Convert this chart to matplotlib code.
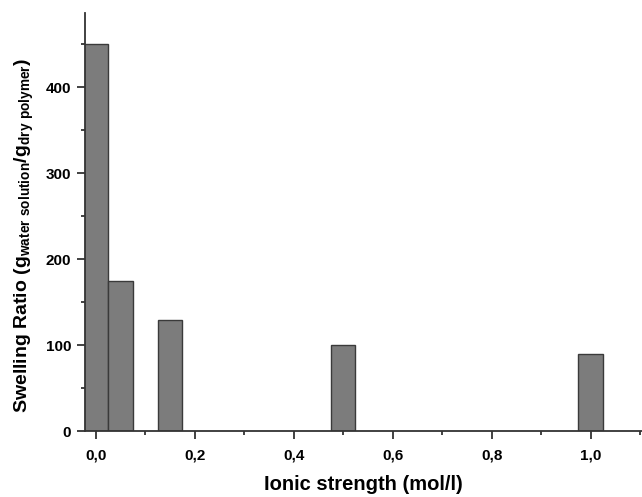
import numpy as np
import matplotlib
matplotlib.use('Agg')
import matplotlib.pyplot as plt
from matplotlib.ticker import MultipleLocator, FuncFormatter

# ionic strength (mol/l) and swelling ratio
ionic_strength = [0.0, 0.05, 0.15, 0.5, 1.0]
swelling_ratio = [450, 175, 130, 100, 90]
bar_width = 0.05

plt.rcParams['font.family'] = ['Liberation Sans', 'DejaVu Sans']

fig = plt.figure(figsize=(6.42, 4.97), dpi=100)
ax = fig.add_axes([0.1324, 0.1318, 0.8676, 0.8420])

ax.bar(ionic_strength, swelling_ratio, width=bar_width, color='#7c7c7c',
       edgecolor='#3a3a3a', linewidth=1.0, zorder=2)

ax.set_xlim(-0.0216, 1.104)
ax.set_ylim(0, 486.6)

for s in ['top', 'right']:
    ax.spines[s].set_visible(False)
for s in ['left', 'bottom']:
    ax.spines[s].set_color('#333333')
    ax.spines[s].set_linewidth(1.3)
    ax.spines[s].set_zorder(3)

ax.xaxis.set_major_locator(MultipleLocator(0.2))
ax.xaxis.set_minor_locator(MultipleLocator(0.1))
ax.yaxis.set_major_locator(MultipleLocator(100))
ax.yaxis.set_minor_locator(MultipleLocator(50))
ax.xaxis.set_major_formatter(FuncFormatter(lambda v, p: ('%.1f' % v).replace('.', ',')))

ax.tick_params(which='major', direction='out', length=6, width=1.3, color='#333333',
               labelsize=11, pad=4)
ax.tick_params(axis='x', which='major', pad=6)
ax.tick_params(which='minor', direction='out', length=3, width=1.3, color='#333333')
for lbl in ax.get_xticklabels() + ax.get_yticklabels():
    lbl.set_fontweight('bold')

ax.set_xlabel('Ionic strength (mol/l)', fontsize=14.5, fontweight='bold', labelpad=9)
ax.set_ylabel(r'Swelling Ratio (g$_{\mathregular{water\ solution}}$/g$_{\mathregular{dry\ polymer}}$)',
              fontsize=14, fontweight='bold')
ax.yaxis.set_label_coords(-0.088, 0.468)

fig.savefig('out.png', dpi=100)
